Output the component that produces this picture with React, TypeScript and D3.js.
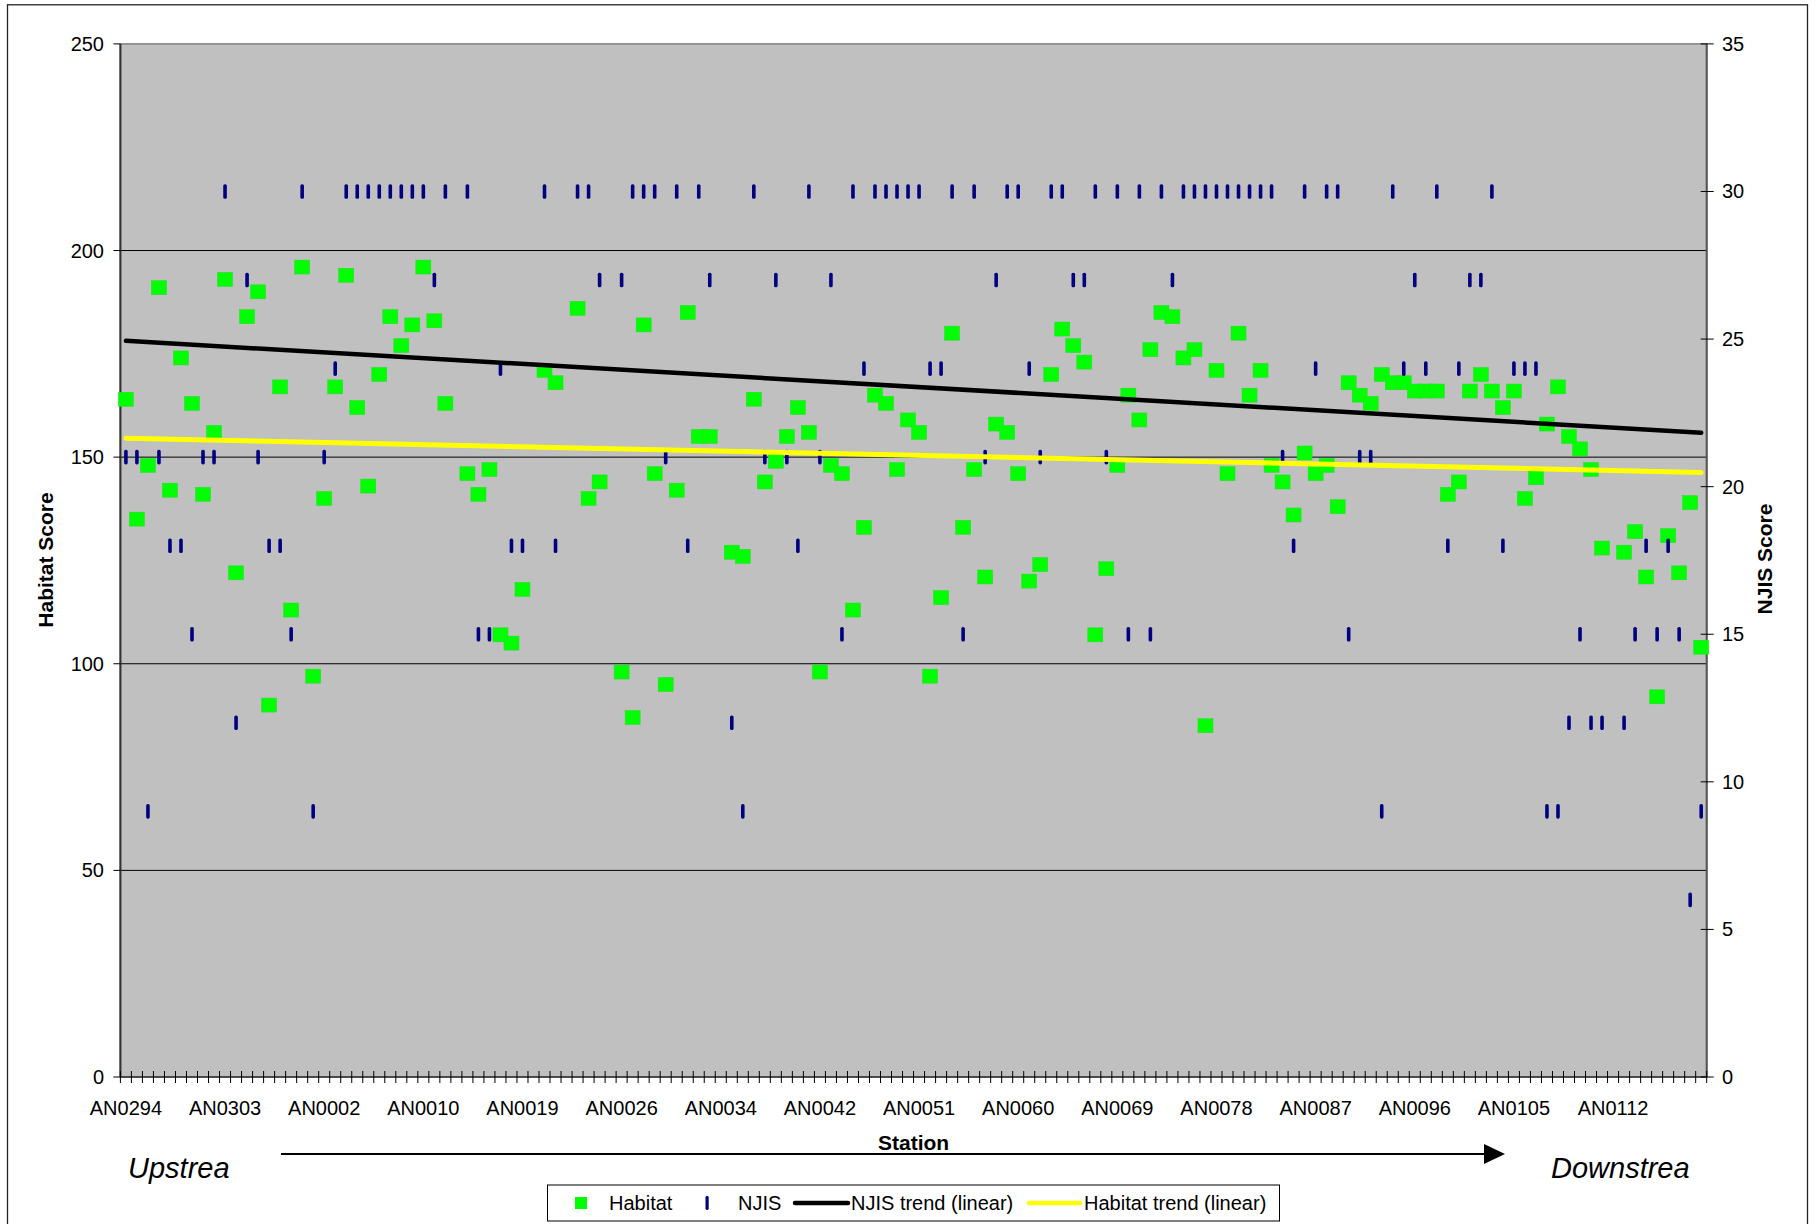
import React from "react";
import * as d3 from "d3";

const stations: string[] = [
  "AN0294","AN0295","AN0296","AN0297","AN0298","AN0299","AN0300","AN0301","AN0302","AN0303",
  "AN0304","AN0305","AN0306","AN0307","AN0308","AN0309","AN0310","AN0001",
  "AN0002","AN0003","AN0004","AN0005","AN0005A","AN0006","AN0007","AN0008","AN0009",
  "AN0010","AN0011","AN0012","AN0013","AN0014","AN0015","AN0016","AN0017","AN0018",
  "AN0019","AN0020","AN0020A","AN0021","AN0022","AN0023","AN0023A","AN0024","AN0025",
  "AN0026","AN0027","AN0028","AN0029","AN0029A","AN0030","AN0031","AN0032","AN0033",
  "AN0034","AN0035","AN0036","AN0037","AN0037A","AN0038","AN0039","AN0040","AN0041",
  "AN0042","AN0043","AN0044","AN0045","AN0046","AN0047","AN0048","AN0049","AN0050",
  "AN0051","AN0052","AN0053","AN0054","AN0055","AN0056","AN0057","AN0058","AN0059",
  "AN0060","AN0061","AN0062","AN0063","AN0064","AN0065","AN0066","AN0067","AN0068",
  "AN0069","AN0070","AN0071","AN0072","AN0073","AN0074","AN0075","AN0076","AN0077",
  "AN0078","AN0079","AN0080","AN0081","AN0082","AN0083","AN0084","AN0085","AN0086",
  "AN0087","AN0088","AN0089","AN0090","AN0091","AN0092","AN0093","AN0094","AN0095",
  "AN0096","AN0097","AN0098","AN0099","AN0100","AN0101","AN0102","AN0103","AN0104",
  "AN0105","AN0106","AN0107","AN0107A","AN0108","AN0109","AN0109A","AN0110","AN0111",
  "AN0112","AN0113","AN0114","AN0115","AN0116","AN0117","AN0118","AN0119","AN0120",
];

const habitat: (number | null)[] = [
  164, 135, 148, 191, 142, 174, 163, 141, 156, 193,
  122, 184, 190, 90, 167, 113, 196, 97, 140, 167,
  194, 162, 143, 170, 184, 177, 182, 196, 183, 163,
  null, 146, 141, 147, 107, 105, 118, null, 171, 168,
  null, 186, 140, 144, null, 98, 87, 182, 146, 95,
  142, 185, 155, 155, null, 127, 126, 164, 144, 149,
  155, 162, 156, 98, 148, 146, 113, 133, 165, 163,
  147, 159, 156, 97, 116, 180, 133, 147, 121, 158,
  156, 146, 120, 124, 170, 181, 177, 173, 107, 123,
  148, 165, 159, 176, 185, 184, 174, 176, 85, 171,
  146, 180, 165, 171, 148, 144, 136, 151, 146, 148,
  138, 168, 165, 163, 170, 168, 168, 166, 166, 166,
  141, 144, 166, 170, 166, 162, 166, 140, 145, 158,
  167, 155, 152, 147, 128, null, 127, 132, 121, 92,
  131, 122, 139, 104,
];

const njis: (number | null)[] = [
  21, 21, 9, 21, 18, 18, 15, 21, 21, 30,
  12, 27, 21, 18, 18, 15, 30, 9, 21, 24,
  30, 30, 30, 30, 30, 30, 30, 30, 27, 30,
  null, 30, 15, 15, 24, 18, 18, null, 30, 18,
  null, 30, 30, 27, null, 27, 30, 30, 30, 21,
  30, 18, 30, 27, null, 12, 9, 30, 21, 27,
  21, 18, 30, 21, 27, 15, 30, 24, 30, 30,
  30, 30, 30, 24, 24, 30, 15, 30, 21, 27,
  30, 30, 24, 21, 30, 30, 27, 27, 30, 21,
  30, 15, 30, 15, 30, 27, 30, 30, 30, 30,
  30, 30, 30, 30, 30, 21, 18, 30, 24, 30,
  30, 15, 21, 21, 9, 30, 24, 27, 24, 30,
  18, 24, 27, 27, 30, 18, 24, 24, 24, 9,
  9, 12, 15, 12, 12, null, 12, 15, 18, 15,
  18, 15, 6, 9,
];

const leftTicks = [0, 50, 100, 150, 200, 250];
const rightTicks = [0, 5, 10, 15, 20, 25, 30, 35];
const labelEvery = 9;

const legendItems = ["Habitat", "NJIS", "NJIS trend (linear)", "Habitat trend (linear)"];

function linreg(vals: (number | null)[]) {
  const pts = vals.map((v, i) => [i + 1, v] as [number, number | null]).filter((p) => p[1] != null) as [number, number][];
  const mx = d3.mean(pts, (p) => p[0])!;
  const my = d3.mean(pts, (p) => p[1])!;
  const sxy = d3.sum(pts, (p) => (p[0] - mx) * (p[1] - my));
  const sxx = d3.sum(pts, (p) => (p[0] - mx) * (p[0] - mx));
  const slope = sxy / sxx;
  const icpt = my - slope * mx;
  return (x: number) => icpt + slope * x;
}

export default function App() {
  const W = 1815, H = 1224;
  const L = 120.4, R = 1706.7, T = 43.9, B = 1077;
  const font = "'Liberation Sans', Arial, sans-serif";

  const x = d3.scaleBand<number>().domain(d3.range(stations.length)).range([L, R]).padding(0);
  const bw = x.bandwidth();
  const cx = (i: number) => x(i)! + bw / 2;
  const yL = d3.scaleLinear().domain([0, 250]).range([B, T]);
  const yR = d3.scaleLinear().domain([0, 35]).range([B, T]);

  const habFit = linreg(habitat);
  const njFit = linreg(njis);
  const n = stations.length;
  const lineL = d3.line<[number, number]>().x((d) => d[0]).y((d) => d[1]);
  const njTrend = lineL([[cx(0), yR(njFit(1))], [cx(n - 1), yR(njFit(n))]]);
  const habTrend = lineL([[cx(0), yL(habFit(1))], [cx(n - 1), yL(habFit(n))]]);

  const legY = 1203;

  return (
    <svg width={W} height={H} style={{ position: "absolute", left: 0, top: 0, background: "#fff" }} fontFamily={font}>
      <rect x={0} y={0} width={W} height={H} fill="#fff" />
      <rect x={7.5} y={4.8} width={1800} height={1240} fill="none" stroke="#222" strokeWidth={1.3} />

      {/* plot area */}
      <rect x={L} y={T} width={R - L} height={B - T} fill="#c0c0c0" stroke="#808080" strokeWidth={1.5} />
      {leftTicks.filter((t) => t > 0 && t < 250).map((t) => (
        <line key={"g" + t} x1={L} x2={R} y1={yL(t)} y2={yL(t)} stroke="#000" strokeWidth={1} />
      ))}
      <line x1={L} x2={L} y1={T} y2={B} stroke="#333" strokeWidth={2} />
      <line x1={R} x2={R} y1={T} y2={B} stroke="#555" strokeWidth={2} />
      <line x1={L} x2={R} y1={B} y2={B} stroke="#000" strokeWidth={1.2} />

      {/* left axis */}
      {leftTicks.map((t) => (
        <g key={"lt" + t}>
          <line x1={L - 7} x2={L} y1={yL(t)} y2={yL(t)} stroke="#000" strokeWidth={1} />
          <text x={104} y={yL(t) + 7} fontSize={20} textAnchor="end">{t}</text>
        </g>
      ))}
      {/* right axis */}
      {rightTicks.map((t) => (
        <g key={"rt" + t}>
          <line x1={R - 6} x2={R + 7} y1={yR(t)} y2={yR(t)} stroke="#000" strokeWidth={1} />
          <text x={1722} y={yR(t) + 7} fontSize={20} textAnchor="start">{t}</text>
        </g>
      ))}
      {/* x ticks */}
      {d3.range(n + 1).map((k) => {
        const xx = L + k * bw;
        return <line key={"xt" + k} x1={xx} x2={xx} y1={B - 6} y2={B + 6} stroke="#000" strokeWidth={1} />;
      })}
      {stations.map((s, i) =>
        i % labelEvery === 0 ? (
          <text key={"xl" + i} x={cx(i)} y={1115} fontSize={20} textAnchor="middle">{s}</text>
        ) : null
      )}

      {/* habitat markers */}
      {habitat.map((v, i) =>
        v == null ? null : (
          <rect key={"h" + i} x={cx(i) - 7.5} y={yL(v) - 7} width={15} height={14} fill="#00ff00" stroke="#22dd22" strokeWidth={0.5} />
        )
      )}
      {/* NJIS markers */}
      {njis.map((v, i) =>
        v == null ? null : (
          <rect key={"n" + i} x={cx(i) - 1.8} y={yR(v) - 7.3} width={3.6} height={14.6} rx={1.6} fill="#000080" />
        )
      )}

      {/* trends */}
      <path d={njTrend!} stroke="#000" strokeWidth={4.5} fill="none" strokeLinecap="round" />
      <path d={habTrend!} stroke="#ffff00" strokeWidth={5} fill="none" strokeLinecap="round" />

      {/* axis titles */}
      <text transform="translate(46,560) rotate(-90)" dy="0.35em" fontSize={21} fontWeight="bold" textAnchor="middle">Habitat Score</text>
      <text transform="translate(1765,559) rotate(-90)" dy="0.35em" fontSize={21} fontWeight="bold" textAnchor="middle">NJIS Score</text>
      <text x={(L + R) / 2} y={1150} fontSize={21} fontWeight="bold" textAnchor="middle">Station</text>

      {/* arrow */}
      <line x1={281} x2={1486} y1={1154} y2={1154} stroke="#000" strokeWidth={2} />
      <polygon points="1484,1144 1505,1154 1484,1164" fill="#000" />
      <text x={128} y={1178} fontSize={29} fontStyle="italic">Upstrea</text>
      <text x={1551} y={1178} fontSize={29} fontStyle="italic">Downstrea</text>

      {/* legend */}
      <rect x={547.5} y={1185} width={732} height={36} fill="#fff" stroke="#000" strokeWidth={1} />
      <rect x={575} y={legY - 6} width={12} height={12} fill="#00ff00" />
      <text x={609} y={legY + 7} fontSize={20}>{legendItems[0]}</text>
      <rect x={705.5} y={legY - 7} width={3.2} height={14} rx={1.4} fill="#000080" />
      <text x={738} y={legY + 7} fontSize={20}>{legendItems[1]}</text>
      <line x1={795} x2={848} y1={legY} y2={legY} stroke="#000" strokeWidth={4.5} strokeLinecap="round" />
      <text x={851} y={legY + 7} fontSize={20}>{legendItems[2]}</text>
      <line x1={1029} x2={1080} y1={legY} y2={legY} stroke="#ffff00" strokeWidth={4.5} strokeLinecap="round" />
      <text x={1084} y={legY + 7} fontSize={20}>{legendItems[3]}</text>
    </svg>
  );
}
